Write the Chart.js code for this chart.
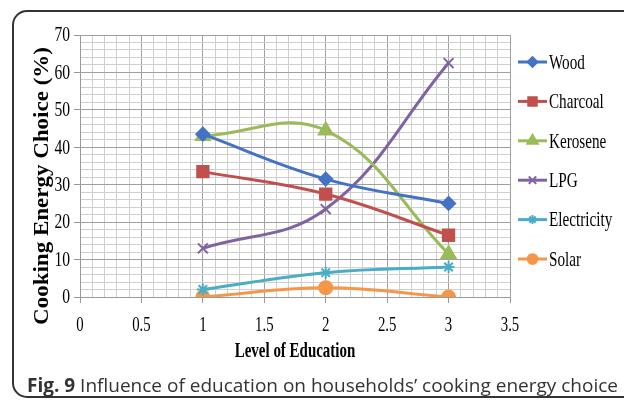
<!DOCTYPE html>
<html>
<head>
<meta charset="utf-8">
<script src="https://cdn.jsdelivr.net/npm/chart.js@4.4.1/dist/chart.umd.min.js"></script>
<style>
  html, body { margin: 0; padding: 0; background: #fff; }
  body { width: 624px; height: 404px; position: relative; overflow: hidden; }
  #card { position: absolute; left: 12px; top: 10px; width: 700px; height: 388px;
          border: 2px solid #333; border-radius: 15px; box-sizing: border-box; }
  #wrap { position: absolute; left: 0; top: 0; width: 624px; height: 404px; }
  #caption { position: absolute; left: 27px; top: 373px; font-family: "Open Sans", sans-serif;
             font-size: 19px; line-height: 24px; color: #333; white-space: nowrap; }
  #caption b { font-weight: 700; }
</style>
</head>
<body>
<div id="card"></div>
<div id="wrap"><canvas id="eduChart" width="624" height="404"></canvas></div>
<div id="caption"><b>Fig. 9</b> Influence of education on households’ cooking energy choice</div>
<script>
const levels = [1, 2, 3];

const wood = [43.5, 31.5, 25];
const charcoal = [33.5, 27.5, 16.5];
const kerosene = [43, 44.5, 11.5];
const lpg = [13, 23.5, 62.5];
const electricity = [2, 6.5, 8];
const solar = [0, 2.5, 0];

const xTickLabels = [0, 0.5, 1, 1.5, 2, 2.5, 3, 3.5];
const yTickLabels = [0, 10, 20, 30, 40, 50, 60, 70];

const serif = '"Liberation Serif", "Times New Roman", serif';

function pts(values) {
    return values.map((v, i) => ({ x: levels[i], y: v }));
}

function series(label, values, color, style, radius) {
    return {
        label: label,
        data: pts(values),
        borderColor: color,
        backgroundColor: color,
        borderWidth: 3,
        tension: 0.4,
        pointStyle: style,
        pointRadius: radius,
        pointHoverRadius: radius,
        pointBorderWidth: 2,
        fill: false
    };
}

const datasets = [
    series('Wood', wood, '#4472C4', 'rectRot', 6.5),
    series('Charcoal', charcoal, '#C0504D', 'rect', 8),
    series('Kerosene', kerosene, '#9BBB59', 'triangle', 8),
    series('LPG', lpg, '#8064A2', 'crossRot', 7),
    series('Electricity', electricity, '#4BACC6', 'star', 6),
    series('Solar', solar, '#F79646', 'circle', 6.5)
];

function isMajor(v, step) {
    const r = v / step;
    return Math.abs(r - Math.round(r)) < 1e-6;
}

function squeezeText(ctx, text, x, y, font, sx, align) {
    ctx.save();
    ctx.font = font;
    ctx.textAlign = align;
    ctx.textBaseline = 'middle';
    ctx.translate(x, y);
    ctx.scale(sx, 1);
    ctx.fillText(text, 0, 0);
    ctx.restore();
}

const textPlugin = {
    id: 'textPlugin',
    afterDraw(chart) {
        const ctx = chart.ctx;
        const xs = chart.scales.x, ys = chart.scales.y;
        ctx.fillStyle = '#000';

        yTickLabels.forEach(v => {
            squeezeText(ctx, String(v), 70, ys.getPixelForValue(v) + 1, '20px ' + serif, 0.78, 'right');
        });
        xTickLabels.forEach(v => {
            squeezeText(ctx, String(v), xs.getPixelForValue(v), 326, '20px ' + serif, 0.74, 'center');
        });

        squeezeText(ctx, 'Level of Education', (xs.left + xs.right) / 2, 351, 'bold 22px ' + serif, 0.68, 'center');

        // vertical title, a bit thinner than the horizontal text
        ctx.save();
        ctx.translate(43, 186);
        ctx.rotate(-Math.PI / 2);
        ctx.scale(1, 0.9);
        ctx.font = 'bold 23px ' + serif;
        ctx.textAlign = 'center';
        ctx.textBaseline = 'middle';
        ctx.fillText('Cooking Energy Choice (%)', 0, 0);
        ctx.restore();

        // legend: line with marker, then label
        chart.data.datasets.forEach((ds, i) => {
            const y = 62 + i * 39.4;
            ctx.save();
            ctx.strokeStyle = ds.borderColor;
            ctx.lineWidth = 3;
            ctx.beginPath();
            ctx.moveTo(518, y);
            ctx.lineTo(547, y);
            ctx.stroke();
            ctx.fillStyle = ds.borderColor;
            ctx.lineWidth = 2;
            Chart.helpers.drawPoint(ctx, {
                pointStyle: ds.pointStyle,
                radius: ds.pointRadius * 0.75,
                rotation: 0,
                borderWidth: 2
            }, 532.5, y);
            ctx.restore();
            ctx.fillStyle = '#000';
            squeezeText(ctx, ds.label, 549, y + 1, '22px ' + serif, 0.69, 'left');
        });
    }
};

new Chart(document.getElementById('eduChart').getContext('2d'), {
    type: 'line',
    data: { datasets: datasets },
    options: {
        responsive: false,
        animation: false,
        events: [],
        layout: { padding: { left: 74, right: 114, top: 35, bottom: 101 } },
        plugins: {
            legend: { display: false },
            tooltip: { enabled: false },
            title: { display: false }
        },
        scales: {
            x: {
                type: 'linear',
                min: 0,
                max: 3.5,
                ticks: { display: false, stepSize: 0.1, autoSkip: false },
                border: { display: true, color: '#999', width: 1 },
                grid: {
                    color: c => isMajor(c.tick.value, 0.5) ? '#a0a0a0' : '#cfcfcf',
                    tickColor: c => isMajor(c.tick.value, 0.5) ? '#999' : 'rgba(0,0,0,0)',
                    tickLength: 6,
                    lineWidth: 1
                }
            },
            y: {
                type: 'linear',
                min: 0,
                max: 70,
                ticks: { display: false, stepSize: 2, autoSkip: false },
                border: { display: true, color: '#999', width: 1 },
                grid: {
                    color: c => isMajor(c.tick.value, 10) ? '#a0a0a0' : '#cfcfcf',
                    tickColor: c => isMajor(c.tick.value, 10) ? '#999' : 'rgba(0,0,0,0)',
                    tickLength: 6,
                    lineWidth: 1
                }
            }
        }
    },
    plugins: [textPlugin]
});
</script>
</body>
</html>
